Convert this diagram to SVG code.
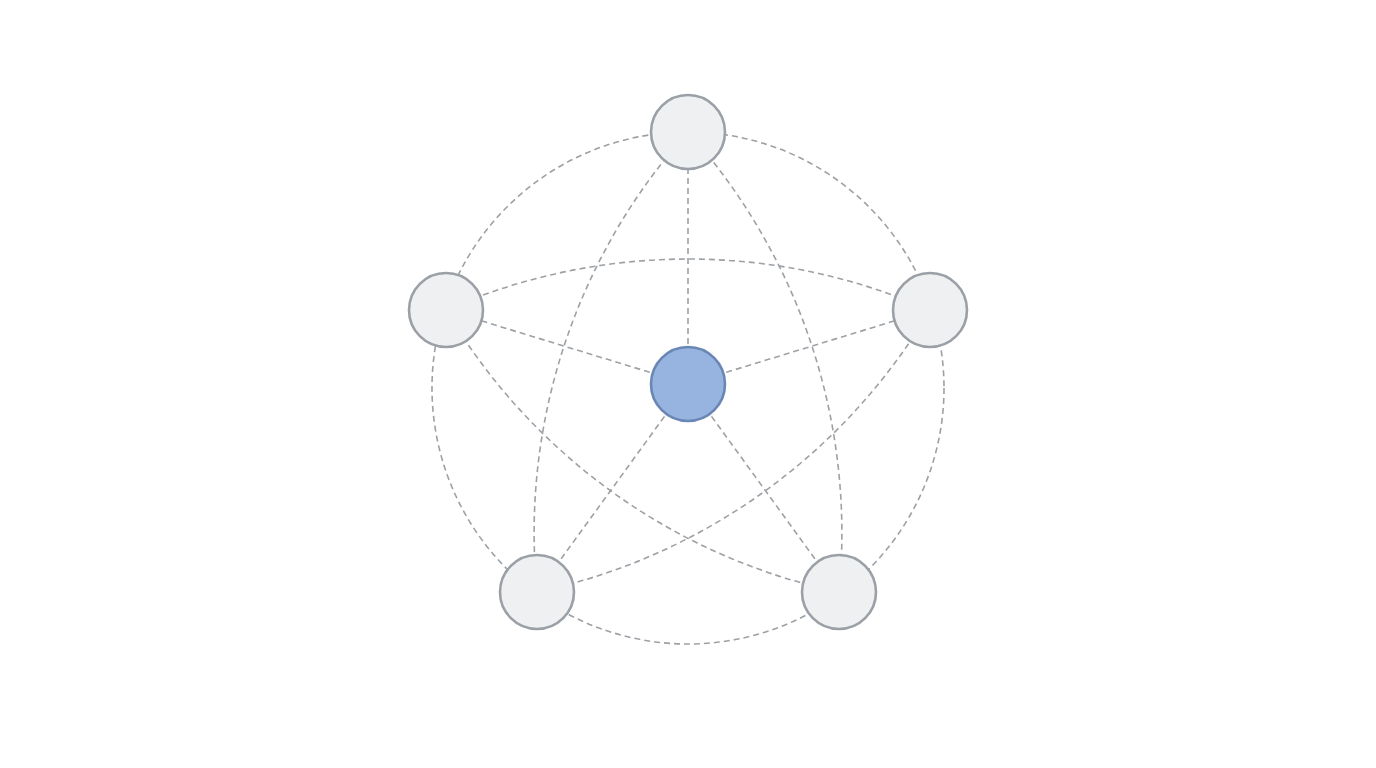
<svg xmlns="http://www.w3.org/2000/svg" width="1376" height="768" viewBox="0 0 1376 768">
<style>
.e{fill:none;stroke:#9da1a5;stroke-width:1.6;stroke-dasharray:6 4}
.n{fill:#eff0f1;stroke:#9aa0a6;stroke-width:2.6}
.c{fill:#97b4e0;stroke:#6a87b4;stroke-width:2.6}
</style>
<rect width="1376" height="768" fill="#ffffff"/>
<g id="connectors">
<circle class="e" cx="688" cy="388" r="256"/>
<path class="e" d="M446 310 A600 600 0 0 1 930 310"/>
<path class="e" d="M688 132 A600 600 0 0 1 839 592"/>
<path class="e" d="M930 310 A600 600 0 0 1 537 592"/>
<path class="e" d="M839 592 A600 600 0 0 1 446 310"/>
<path class="e" d="M537 592 A600 600 0 0 1 688 132"/>
<line class="e" x1="688" y1="384" x2="688" y2="132"/>
<line class="e" x1="688" y1="384" x2="446" y2="310"/>
<line class="e" x1="688" y1="384" x2="930" y2="310"/>
<line class="e" x1="688" y1="384" x2="537" y2="592"/>
<line class="e" x1="688" y1="384" x2="839" y2="592"/>
</g>
<g id="node-top"><circle class="n" cx="688" cy="132" r="37"/></g>
<g id="node-left"><circle class="n" cx="446" cy="310" r="37"/></g>
<g id="node-right"><circle class="n" cx="930" cy="310" r="37"/></g>
<g id="node-bottom-left"><circle class="n" cx="537" cy="592" r="37"/></g>
<g id="node-bottom-right"><circle class="n" cx="839" cy="592" r="37"/></g>
<g id="node-center"><circle class="c" cx="688" cy="384" r="37"/></g>
</svg>
